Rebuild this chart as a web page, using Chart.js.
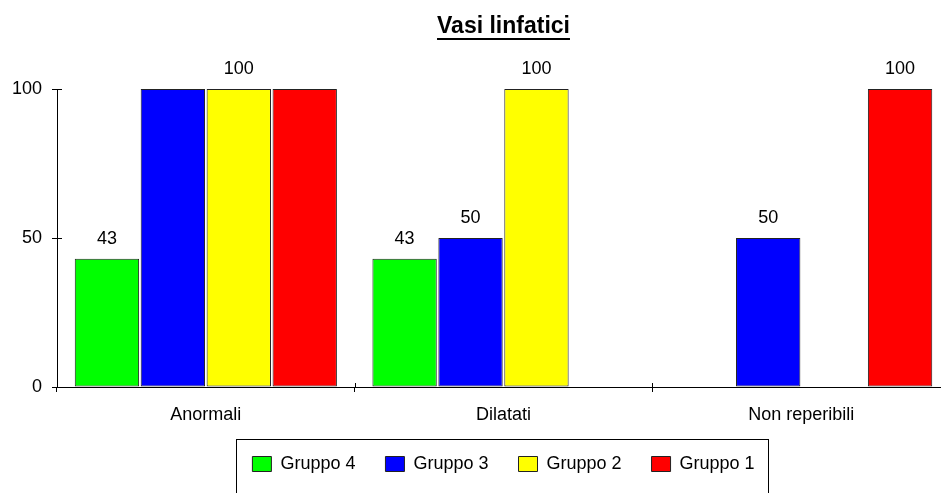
<!DOCTYPE html>
<html lang="it">
<head>
<meta charset="utf-8">
<title>Vasi linfatici</title>
<script src="https://cdn.jsdelivr.net/npm/chart.js@4.4.1/dist/chart.umd.min.js"></script>
<style>
  html, body { margin: 0; padding: 0; background: #fff; overflow: hidden; }
  canvas { display: block; }
</style>
</head>
<body>
<canvas id="grafico" width="960" height="493"></canvas>
<script>
// ============================================
// Vasi linfatici — istogramma per gruppo
// ============================================

const FONT = "'Liberation Sans', Arial, sans-serif"

const categorie = ["Anormali", "Dilatati", "Non reperibili"]
const gruppi    = ["Gruppo 4", "Gruppo 3", "Gruppo 2", "Gruppo 1"]
const colori    = ["#00ff00", "#0000ff", "#ffff00", "#ff0000"]

const gruppo4 = [43, 43, 0]
const gruppo3 = [100, 50, 50]
const gruppo2 = [100, 100, 0]
const gruppo1 = [100, 0, 100]

// etichette sopra le barre: nell'originale alcune non compaiono
const etichette4 = [true, true, false]
const etichette3 = [false, true, true]
const etichette2 = [true, true, false]
const etichette1 = [false, false, true]

const yTicks = [0, 50, 100]

// sottolineatura del titolo
const sottolineaTitolo = {
  id: "sottolineaTitolo",
  afterDraw(chart) {
    const t = chart.titleBlock
    const ctx = chart.ctx
    ctx.save()
    ctx.font = `bold 23px ${FONT}`
    const w  = ctx.measureText(t.options.text).width
    const cx = (t.left + t.right) / 2
    ctx.strokeStyle = "#000"; ctx.lineWidth = 2
    ctx.beginPath(); ctx.moveTo(cx - w / 2, 39); ctx.lineTo(cx + w / 2, 39); ctx.stroke()
    ctx.restore()
  }
}

// valori sopra le barre
const etichetteValori = {
  id: "etichetteValori",
  afterDatasetsDraw(chart) {
    const ctx = chart.ctx
    ctx.save()
    ctx.font = `18px ${FONT}`; ctx.fillStyle = "#000"
    ctx.textAlign = "center"; ctx.textBaseline = "alphabetic"
    chart.data.datasets.forEach((ds, i) => {
      chart.getDatasetMeta(i).data.forEach((bar, j) => {
        if (!ds.etichette[j] || !ds.data[j]) return
        ctx.fillText(ds.data[j], bar.x, bar.y - 15)
      })
    })
    ctx.restore()
  }
}

// tacche che attraversano gli assi (parte interna)
const tacche = {
  id: "tacche",
  afterDraw(chart) {
    const { ctx, chartArea: a, scales: { x, y } } = chart
    ctx.save(); ctx.strokeStyle = "#000"; ctx.lineWidth = 1
    ctx.beginPath()
    yTicks.forEach(v => {
      const py = Math.round(y.getPixelForValue(v)) + 0.5
      ctx.moveTo(a.left, py); ctx.lineTo(a.left + 5, py)
    })
    for (let i = 0; i <= categorie.length; i++) {
      const px = Math.round(x.getPixelForValue(i - 0.5)) + 0.5
      ctx.moveTo(px, a.bottom); ctx.lineTo(px, a.bottom - 4)
    }
    ctx.stroke(); ctx.restore()
  }
}

// cornice della legenda
const cornice = {
  id: "cornice",
  afterDraw(chart) {
    const boxes = chart.legend.legendHitBoxes
    if (!boxes || !boxes.length) return
    const ultimo = boxes[boxes.length - 1]
    const sx  = Math.round(boxes[0].left - 16) + 0.5
    const dx  = Math.round(ultimo.left + ultimo.width + 13) + 0.5
    const top = Math.round(boxes[0].top - 16) + 0.5
    const ctx = chart.ctx
    ctx.save(); ctx.strokeStyle = "#000"; ctx.lineWidth = 1
    ctx.strokeRect(sx, top, dx - sx, 100)
    ctx.restore()
  }
}

const serie = [gruppo4, gruppo3, gruppo2, gruppo1]
const etichette = [etichette4, etichette3, etichette2, etichette1]

new Chart(document.getElementById("grafico"), {
  type: "bar",
  data: {
    labels: categorie,
    datasets: serie.map((valori, i) => ({
      label: gruppi[i],
      data: valori,
      etichette: etichette[i],
      backgroundColor: colori[i],
      borderColor: "#222",
      borderWidth: 1,
      borderSkipped: false,
      categoryPercentage: 0.886,
      barPercentage: 0.976
    }))
  },
  options: {
    responsive: false,
    devicePixelRatio: 1,
    animation: false,
    events: [],
    layout: { padding: { top: 0, left: 0, right: 10, bottom: 10 } },
    plugins: {
      title: {
        display: true, text: "Vasi linfatici", fullSize: false, color: "#000",
        font: { family: FONT, size: 23, weight: "bold" },
        padding: { top: 13, bottom: 48.4 }
      },
      legend: {
        position: "bottom", fullSize: false,
        labels: {
          boxWidth: 19, boxHeight: 15, padding: 30, color: "#000",
          font: { family: FONT, size: 18 }
        }
      },
      tooltip: { enabled: false }
    },
    scales: {
      x: {
        grid: { drawOnChartArea: false, tickLength: 5, color: "#000" },
        border: { color: "#000", width: 1 },
        ticks: { font: { family: FONT, size: 18 }, color: "#000", padding: 12 },
        afterFit: s => { s.height = 38 }
      },
      y: {
        min: 0, max: 100,
        afterBuildTicks: s => { s.ticks = yTicks.map(v => ({ value: v })) },
        grid: { drawOnChartArea: false, tickLength: 5, color: "#000" },
        border: { color: "#000", width: 1 },
        ticks: { font: { family: FONT, size: 18 }, color: "#000", padding: 10 },
        afterFit: s => { s.width = 57 }
      }
    }
  },
  plugins: [sottolineaTitolo, etichetteValori, tacche, cornice]
})
</script>
</body>
</html>
